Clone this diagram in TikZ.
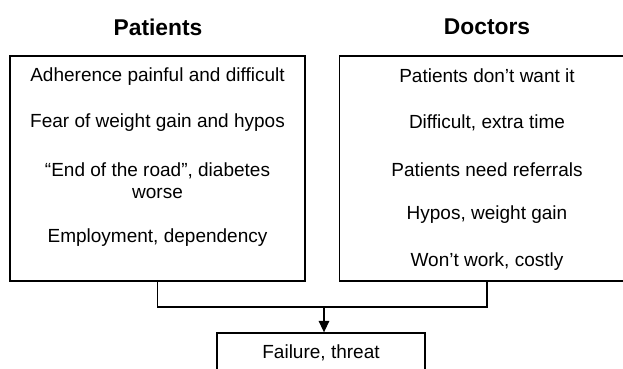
\documentclass[tikz,border=0pt]{standalone}
\usepackage{fontspec}
\setmainfont{Liberation Sans}
\usetikzlibrary{arrows.meta}
\begin{document}
\begin{tikzpicture}[x=0.526pt, y=-0.526pt, font=\fontsize{10}{11.6}\selectfont,
		heading/.style={font=\fontsize{12}{14}\selectfont\bfseries},
		panel/.style={draw, line width=0.7pt, minimum width=295*0.526pt, minimum height=225*0.526pt, inner sep=0pt},
		item/.style={align=center, inner sep=0pt},
		link/.style={line width=0.7pt}]
		\useasboundingbox (0, 0) rectangle (623, 368);

		\node[heading] (patients) at (158, 27) {Patients};
		\node[heading] (doctors) at (487, 27) {Doctors};

		\node[panel] (pbox) at (157.5, 168.5) {};
		\node[panel] (dbox) at (487, 168.5) {};

		\node[item] (p1) at (157.5, 77) {Adherence painful and difficult};
		\node[item] (p2) at (157.5, 123) {Fear of weight gain and hypos};
		\node[item] (p3) at (157.5, 181) {“End of the road”, diabetes\\worse};
		\node[item] (p4) at (157.5, 238) {Employment, dependency};

		\node[item] (d1) at (487, 76) {Patients don’t want it};
		\node[item] (d2) at (487, 123) {Difficult, extra time};
		\node[item] (d3) at (487, 170) {Patients need referrals};
		\node[item] (d4) at (487, 215) {Hypos, weight gain};
		\node[item] (d5) at (487, 262) {Won’t work, costly};

		\node[draw, line width=0.7pt, minimum width=208*0.526pt, minimum height=40*0.526pt] (failure) at (321, 353) {Failure, threat};

		\coordinate (join) at (324, 307);

		\draw[link] (pbox.south) |- (join) -| (dbox.south);
		\draw[link, -{Triangle[length=6pt, width=5.5pt]}] (join) -- (join |- failure.north);
	\end{tikzpicture}
\end{document}
